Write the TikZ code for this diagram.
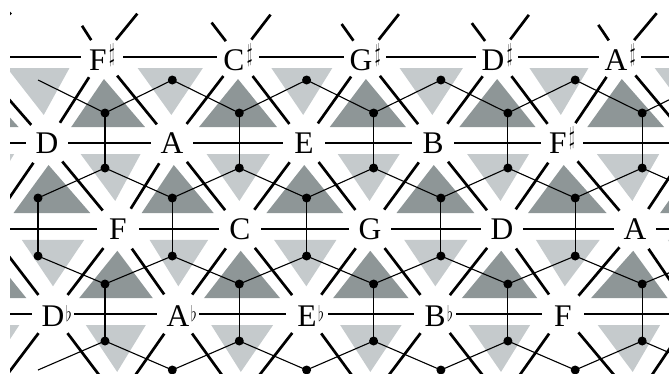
\documentclass[tikz,border=0pt]{standalone}
\usepackage{fontspec}
\setmainfont{Liberation Serif}
\usepackage{graphicx}
\usetikzlibrary{calc}
\definecolor{tridark}{RGB}{142,150,151}
\definecolor{trilight}{RGB}{197,202,204}
\newcommand{\shrp}{\kern2.5pt\raisebox{9pt}{\scalebox{0.6}[1.02]{$\sharp$}}}
\newcommand{\flt}{\rlap{\kern1.5pt\raisebox{5pt}{\scalebox{0.62}[0.86]{$\flat$}}}}
\newcommand{\uptri}[3]{\fill[majortri] ($0.744*(#1)+0.128*(#2)+0.128*(#3)$) -- ($0.186*(#1)+0.702*(#2)+0.112*(#3)$) -- ($0.186*(#1)+0.112*(#2)+0.702*(#3)$) -- cycle;}
\newcommand{\downtri}[3]{\fill[minortri] ($0.128*(#3)+0.676*(#1)+0.196*(#2)$) -- ($0.128*(#3)+0.196*(#1)+0.676*(#2)$) -- ($0.674*(#3)+0.163*(#1)+0.163*(#2)$) -- cycle;}
\tikzset{
  lattice/.style={line width=2.8pt, shorten <=21pt, shorten >=21pt},
  diag/.style={line width=2.7pt, shorten <=24pt, shorten >=24pt},
  stubl/.style={line width=2.7pt, shorten <=20pt, shorten >=65pt},
  stubr/.style={line width=2.7pt, shorten <=22pt, shorten >=55pt},
  dual/.style={line width=1.1pt},
  dot/.style={circle, fill=black, inner sep=0pt, minimum size=9pt},
  lab/.style={font=\fontsize{31.5}{31.5}\selectfont, inner sep=0pt, anchor=base},
  majortri/.style={fill=tridark},
  minortri/.style={fill=trilight}
}
\begin{document}
\begin{tikzpicture}[x=1pt,y=-1pt]
\useasboundingbox (0,0) rectangle (669,373);
\clip (0,0) rectangle (669,373);
% lattice points
\foreach \r/\yy/\xs in {0/-29/{-82,47,172,304,433,562,692},
                        1/57/{-28,102,238,365,497,620,750},
                        2/143/{-82,47,172,304,433,562,692},
                        3/229/{-12,118,240,370,502,635,765},
                        4/314/{-76,53,178,307,435,563,693},
                        5/400/{-12,118,240,370,502,635,765}}{
  \foreach \xx [count=\c from 0] in \xs {
    \coordinate (n-\r-\c) at (\xx,\yy);
  }
}
% dual graph points
\foreach \k in {0,...,5}{
  \pgfmathsetmacro\xa{105+134.3*\k}
  \pgfmathsetmacro\xb{38+134.3*\k}
  \coordinate (w1-\k) at (\xb,80);
  \coordinate (u1-\k) at (\xa,113);
  \coordinate (w2-\k) at (\xa,168);
  \coordinate (u2-\k) at (\xb,198);
  \coordinate (w3-\k) at (\xb,256);
  \coordinate (u3-\k) at (\xa,284);
  \coordinate (w4-\k) at (\xa,341);
  \coordinate (u4-\k) at (\xb,370);
  \coordinate (w5-\k) at (\xb,427);
}
\begin{scope}
\clip (10,0) rectangle (669,373);
% triangles
\foreach \c [evaluate=\c as \d using int(\c+1)] in {0,...,5}{
  \uptri{n-1-\c}{n-2-\c}{n-2-\d}
  \downtri{n-1-\c}{n-1-\d}{n-2-\d}
  \uptri{n-2-\d}{n-3-\c}{n-3-\d}
  \downtri{n-2-\c}{n-2-\d}{n-3-\c}
  \uptri{n-3-\c}{n-4-\c}{n-4-\d}
  \downtri{n-3-\c}{n-3-\d}{n-4-\d}
  \downtri{n-4-\c}{n-4-\d}{n-5-\c}
}
% lattice edges
\foreach \c [evaluate=\c as \d using int(\c+1)] in {0,...,5}{
  \foreach \r in {1,2,3,4}{
    \draw[lattice] (n-\r-\c) -- (n-\r-\d);
  }
  \foreach \o/\e in {1/2,3/2,3/4,5/4}{
    \draw[diag] (n-\o-\c) -- (n-\e-\c);
    \draw[diag] (n-\o-\c) -- (n-\e-\d);
  }
  \draw[stubl] (n-1-\c) -- (n-0-\c);
  \draw[stubr] (n-1-\c) -- (n-0-\d);
}
\end{scope}
% dual edges
\foreach \k [evaluate=\k as \j using int(\k-1)] in {1,...,5}{
  \draw[dual] (w1-\k) -- (u1-\j);
  \draw[dual] (u2-\k) -- (w2-\j);
  \draw[dual] (w3-\k) -- (u3-\j);
}
\foreach \k [evaluate=\k as \n using int(\k+1)] in {0,...,4}{
  \draw[dual] (w1-\k) -- (u1-\k);
  \draw[dual] (u1-\k) -- (w2-\k);
  \draw[dual] (u2-\k) -- (w2-\k);
  \draw[dual] (u2-\k) -- (w3-\k);
  \draw[dual] (w3-\k) -- (u3-\k);
  \draw[dual] (u3-\k) -- (w4-\k);
  \draw[dual] (w4-\k) -- (u4-\k);
  \draw[dual] (w4-\k) -- (u4-\n);
}
\foreach \k in {1,...,4}{
  \draw[dual] (u4-\k) -- (w5-\k);
}
% dots
\foreach \k in {0,...,4}{
  \node[dot] (du1-\k) at (u1-\k) {};
  \node[dot] (dw2-\k) at (w2-\k) {};
  \node[dot] (du2-\k) at (u2-\k) {};
  \node[dot] (dw3-\k) at (w3-\k) {};
  \node[dot] (du3-\k) at (u3-\k) {};
  \node[dot] (dw4-\k) at (w4-\k) {};
}
\foreach \k in {1,...,4}{
  \node[dot] (dw1-\k) at (w1-\k) {};
  \node[dot] (du4-\k) at (u4-\k) {};
}
% labels
\node[lab] (L-1-1) at ($(n-1-1)+(0,13)$) {F\shrp};
\node[lab] (L-1-2) at ($(n-1-2)+(0,13)$) {C\shrp};
\node[lab] (L-1-3) at ($(n-1-3)+(0,13)$) {G\shrp};
\node[lab] (L-1-4) at ($(n-1-4)+(0,13)$) {D\shrp};
\node[lab] (L-1-5) at ($(n-1-5)+(0,13)$) {A\shrp};
\node[lab] (L-2-1) at ($(n-2-1)+(0,10.5)$) {D};
\node[lab] (L-2-2) at ($(n-2-2)+(0,10.5)$) {A};
\node[lab] (L-2-3) at ($(n-2-3)+(0,10.5)$) {E};
\node[lab] (L-2-4) at ($(n-2-4)+(0,10.5)$) {B};
\node[lab] (L-2-5) at ($(n-2-5)+(0,10.5)$) {F\shrp};
\node[lab] (L-3-1) at ($(n-3-1)+(0,10)$) {F};
\node[lab] (L-3-2) at ($(n-3-2)+(0,10)$) {C};
\node[lab] (L-3-3) at ($(n-3-3)+(0,10)$) {G};
\node[lab] (L-3-4) at ($(n-3-4)+(0,10)$) {D};
\node[lab] (L-3-5) at ($(n-3-5)+(0,10)$) {A};
\node[lab] (L-4-1) at ($(n-4-1)+(0,12)$) {D\flt};
\node[lab] (L-4-2) at ($(n-4-2)+(0,12)$) {A\flt};
\node[lab] (L-4-3) at ($(n-4-3)+(0,12)$) {E\flt};
\node[lab] (L-4-4) at ($(n-4-4)+(0,12)$) {B\flt};
\node[lab] (L-4-5) at ($(n-4-5)+(0,12)$) {F};
\end{tikzpicture}
\end{document}
